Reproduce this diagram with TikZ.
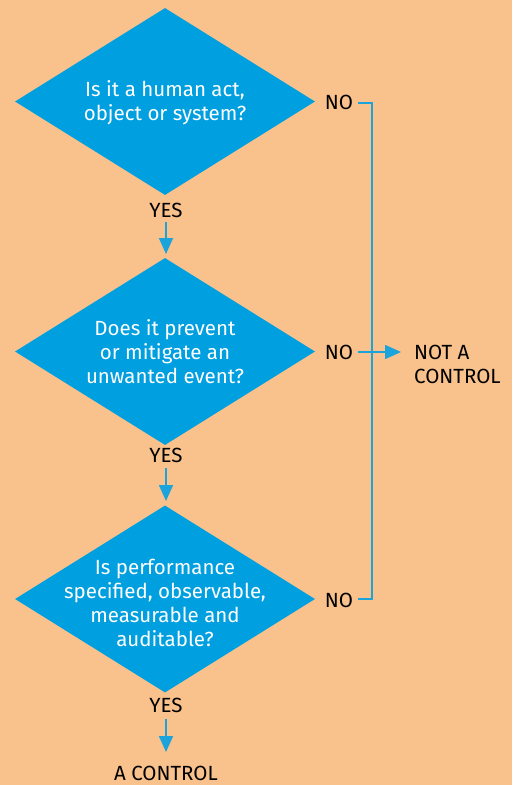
\documentclass[tikz,border=0pt]{standalone}
\usepackage{fontspec}
\setmainfont{Fira Sans}
\usetikzlibrary{shapes.geometric,arrows.meta}
\definecolor{bgpeach}{HTML}{F9C18B}
\definecolor{dblue}{HTML}{009FE0}
\definecolor{lblue}{HTML}{1BA3DC}
\tikzset{
  x=1pt,y=-1pt,
  qbox/.style={diamond,fill=dblue,draw=none,minimum width=300pt,minimum height=187pt,inner sep=0pt,aspect=1.6},
  qtext/.style={align=center,text=white,font=\fontsize{20.5}{24}\selectfont,inner sep=0pt},
  lbl/.style={text=black,font=\fontsize{20.5}{24}\selectfont,inner sep=0pt},
  conn/.style={draw=lblue,line width=1.5pt},
  arr/.style={conn,-{Triangle[width=14pt,length=16pt]}}
}
\begin{document}
\begin{tikzpicture}
\fill[bgpeach] (0,0) rectangle (512,785);
\useasboundingbox (0,0) rectangle (512,785);
% diamonds
\node[qbox] (d1) at (165,101.5) {};
\node[qbox] (d2) at (165,351.5) {};
\node[qbox] (d3) at (165,599) {};
\node[qtext] (t1) at ([yshift=-1pt]d1.center) {Is it a human act,\\object or system?};
\node[qtext] (t2) at (d2.center) {Does it prevent\\or mitigate an\\unwanted event?};
\node[qtext] (t3) at ([yshift=-4pt]d3.center) {Is performance\\specified, observable,\\measurable and\\auditable?};
% YES labels
\node[lbl] (y1) at (166,210) {YES};
\node[lbl] (y2) at (166,455) {YES};
\node[lbl] (y3) at (166,705) {YES};
\node[lbl] (ac) at (166,773) {A CONTROL};
% NO labels
\node[lbl] (n1) at (339,102) {NO};
\node[lbl] (n2) at (339,352) {NO};
\node[lbl] (n3) at (339,600) {NO};
\node[lbl,anchor=west,align=left] (nc) at (414,364) {NOT A\\CONTROL};
% YES arrows
\draw[arr] (166,222) -- (166,254);
\draw[arr] (166,468) -- (166,501);
\draw[arr] (166,719) -- (166,752);
% NO connectors
\coordinate (c1) at (372,103);
\coordinate (c3) at (372,599);
\coordinate (c2) at (372,352);
\draw[conn] (358,103) -- (c1) -- (c3) -- (358,599);
\draw[arr] (358,352) -- (401,352);
\end{tikzpicture}
\end{document}
